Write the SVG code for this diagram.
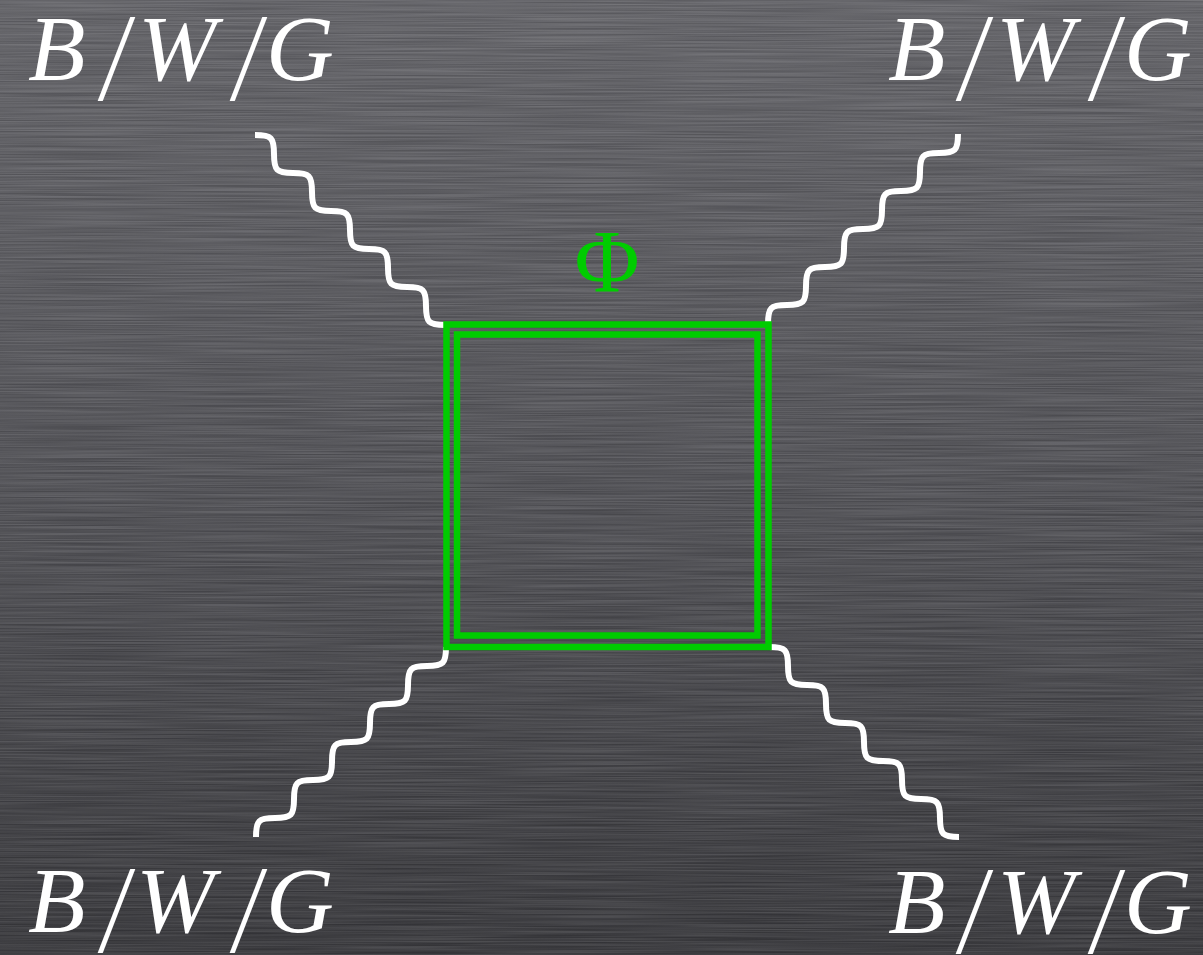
<svg xmlns="http://www.w3.org/2000/svg" width="1203" height="955" viewBox="0 0 1203 955">
  <defs>
    <linearGradient id="bg" x1="0" y1="0" x2="0" y2="1">
      <stop offset="0" stop-color="#646469"/>
      <stop offset="0.5" stop-color="#525257"/>
      <stop offset="1" stop-color="#38383c"/>
    </linearGradient>
    <filter id="brush" x="0" y="0" width="100%" height="100%" color-interpolation-filters="sRGB">
      <feTurbulence type="fractalNoise" baseFrequency="0.006 0.7" numOctaves="2" seed="7"/>
      <feColorMatrix type="matrix" values="2 0 0 0 -0.5  2 0 0 0 -0.5  2 0 0 0 -0.5  0 0 0 0 0.1"/>
    </filter>
    <style>
      .wave { fill: none; stroke: #ffffff; stroke-width: 6; stroke-linejoin: round; }
      .box { fill: none; stroke: #00cc00; stroke-width: 6.5; }
      .lbl { font-family: "Liberation Serif", "Times New Roman", serif; font-style: italic; font-size: 94px; fill: #ffffff; }
      .phi { font-family: "Liberation Serif", "Times New Roman", serif; font-size: 89px; fill: #00cc00; text-anchor: middle; }
    </style>
  </defs>

  <rect x="0" y="0" width="1203" height="955" fill="url(#bg)"/>
  <rect x="0" y="0" width="1203" height="955" filter="url(#brush)"/>

  <g id="connectors">
    <path id="wave-tl" class="wave" d="M445,325 c -16.5,0 -19,-2.5 -19,-19 c 0,-16.5 -2.5,-19 -19,-19 c -16.5,0 -19,-2.5 -19,-19 c 0,-16.5 -2.5,-19 -19,-19 c -16.5,0 -19,-2.5 -19,-19 c 0,-16.5 -2.5,-19 -19,-19 c -16.5,0 -19,-2.5 -19,-19 c 0,-16.5 -2.5,-19 -19,-19 c -16.5,0 -19,-2.5 -19,-19 c 0,-16.5 -2.5,-19 -19,-19"/>
    <path id="wave-tr" class="wave" d="M768,324 c 0,-16.5 2.5,-19 19,-19 c 16.5,0 19,-2.5 19,-19 c 0,-16.5 2.5,-19 19,-19 c 16.5,0 19,-2.5 19,-19 c 0,-16.5 2.5,-19 19,-19 c 16.5,0 19,-2.5 19,-19 c 0,-16.5 2.5,-19 19,-19 c 16.5,0 19,-2.5 19,-19 c 0,-16.5 2.5,-19 19,-19 c 16.5,0 19,-2.5 19,-19"/>
    <path id="wave-bl" class="wave" d="M446,647 c 0,16.5 -2.5,19 -19,19 c -16.5,0 -19,2.5 -19,19 c 0,16.5 -2.5,19 -19,19 c -16.5,0 -19,2.5 -19,19 c 0,16.5 -2.5,19 -19,19 c -16.5,0 -19,2.5 -19,19 c 0,16.5 -2.5,19 -19,19 c -16.5,0 -19,2.5 -19,19 c 0,16.5 -2.5,19 -19,19 c -16.5,0 -19,2.5 -19,19"/>
    <path id="wave-br" class="wave" d="M769,647 c 16.5,0 19,2.5 19,19 c 0,16.5 2.5,19 19,19 c 16.5,0 19,2.5 19,19 c 0,16.5 2.5,19 19,19 c 16.5,0 19,2.5 19,19 c 0,16.5 2.5,19 19,19 c 16.5,0 19,2.5 19,19 c 0,16.5 2.5,19 19,19 c 16.5,0 19,2.5 19,19 c 0,16.5 2.5,19 19,19"/>
  </g>

  <g id="loop">
    <rect class="box" x="446.5" y="324.5" width="322" height="322.5"/>
    <rect class="box" x="457" y="334.5" width="300.5" height="301"/>
  </g>

  <g id="phi-label">
    <text class="phi" x="607" y="291">Φ</text>
  </g>

  <g id="label-tl">
    <text class="lbl" x="28" y="80">B</text>
    <text class="lbl" transform="translate(102,100) scale(1,1.33)">/</text>
    <text class="lbl" x="138" y="80">W</text>
    <text class="lbl" transform="translate(234,100) scale(1,1.33)">/</text>
    <text class="lbl" x="266" y="80">G</text>
  </g>
  <g id="label-tr">
    <text class="lbl" x="888" y="80">B</text>
    <text class="lbl" transform="translate(960,100) scale(1,1.33)">/</text>
    <text class="lbl" x="996" y="80">W</text>
    <text class="lbl" transform="translate(1092,100) scale(1,1.33)">/</text>
    <text class="lbl" x="1124" y="80">G</text>
  </g>
  <g id="label-bl">
    <text class="lbl" x="28" y="932">B</text>
    <text class="lbl" transform="translate(102,952) scale(1,1.33)">/</text>
    <text class="lbl" x="136" y="932">W</text>
    <text class="lbl" transform="translate(234,952) scale(1,1.33)">/</text>
    <text class="lbl" x="266" y="932">G</text>
  </g>
  <g id="label-br">
    <text class="lbl" x="888" y="933">B</text>
    <text class="lbl" transform="translate(960,953) scale(1,1.33)">/</text>
    <text class="lbl" x="997" y="933">W</text>
    <text class="lbl" transform="translate(1092,953) scale(1,1.33)">/</text>
    <text class="lbl" x="1124" y="933">G</text>
  </g>
</svg>
